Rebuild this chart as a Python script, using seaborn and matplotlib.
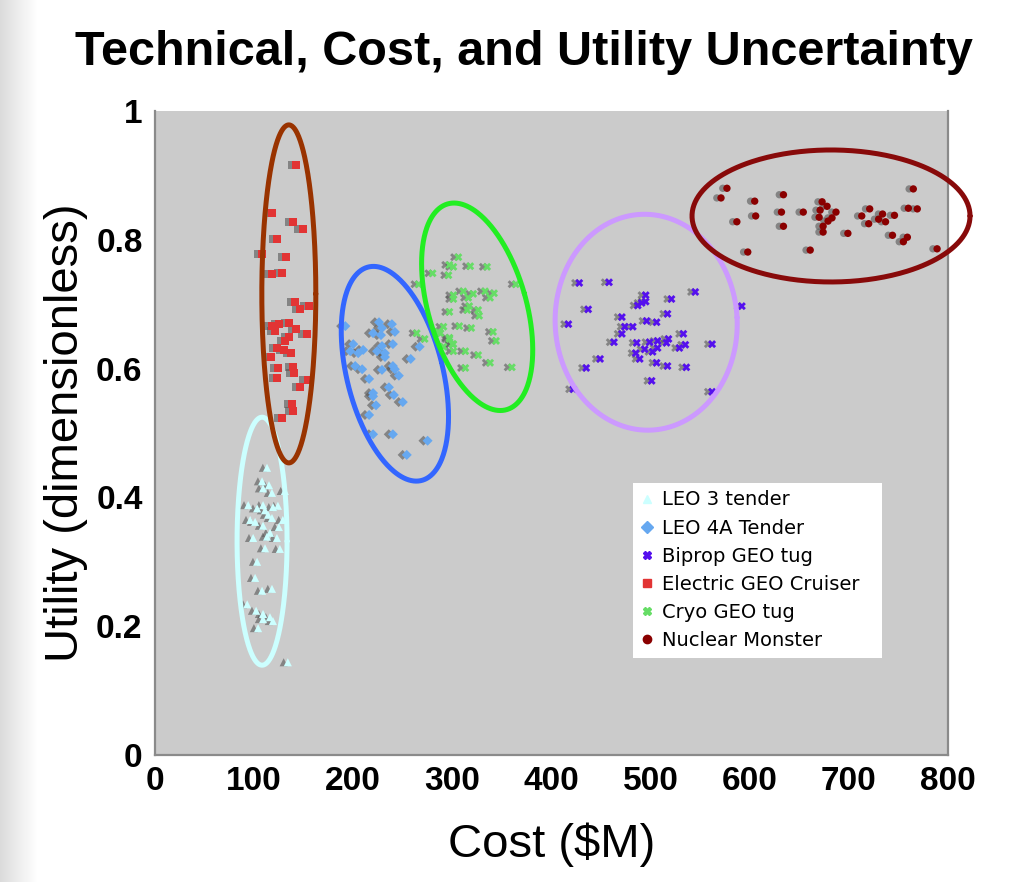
import numpy as np
import pandas as pd
import matplotlib
matplotlib.use("Agg")
import matplotlib.pyplot as plt
import matplotlib.patheffects as pe
import seaborn as sns

# ---------------- data ----------------
series_names = ["LEO 3 tender", "LEO 4A Tender", "Biprop GEO tug",
                "Electric GEO Cruiser", "Cryo GEO tug", "Nuclear Monster"]

leo3_cost = [113, 108, 115, 109, 118, 131, 94, 103, 109, 111, 119, 124, 114, 96, 101, 118, 129,
             109, 125, 116, 113, 99, 123, 111, 126, 103, 101, 108, 118, 93, 102, 109, 116, 119,
             109, 104, 134]
leo3_util = [0.446, 0.425, 0.419, 0.414, 0.407, 0.410, 0.388, 0.383, 0.388, 0.380, 0.385, 0.387,
             0.373, 0.365, 0.362, 0.368, 0.365, 0.356, 0.354, 0.345, 0.339, 0.337, 0.337, 0.321,
             0.320, 0.300, 0.275, 0.255, 0.258, 0.234, 0.224, 0.219, 0.214, 0.208, 0.211, 0.197,
             0.144]

leo4a_cost = [192, 226, 239, 229, 220, 228, 242, 200, 229, 240, 267, 197, 210, 205, 224, 232, 232,
              258, 202, 209, 229, 240, 242, 246, 216, 236, 220, 220, 241, 250, 223, 216, 220, 240,
              275, 254]
leo4a_util = [0.666, 0.672, 0.669, 0.663, 0.655, 0.652, 0.657, 0.638, 0.635, 0.638, 0.634, 0.627,
              0.629, 0.624, 0.627, 0.624, 0.618, 0.615, 0.604, 0.599, 0.598, 0.604, 0.599, 0.589,
              0.584, 0.571, 0.562, 0.557, 0.559, 0.548, 0.543, 0.528, 0.498, 0.498, 0.488, 0.466]

biprop_cost = [428, 458, 545, 495, 495, 491, 487, 521, 592, 437, 517, 471, 496, 506, 417, 474, 482,
               471, 533, 463, 486, 499, 507, 518, 516, 535, 562, 529, 507, 494, 502, 485, 489, 449,
               506, 517, 536, 435, 501, 422, 562]
biprop_util = [0.733, 0.734, 0.719, 0.714, 0.704, 0.702, 0.698, 0.708, 0.697, 0.692, 0.685, 0.680,
               0.674, 0.672, 0.669, 0.665, 0.665, 0.654, 0.654, 0.641, 0.640, 0.641, 0.643, 0.646,
               0.640, 0.637, 0.638, 0.632, 0.632, 0.630, 0.626, 0.624, 0.615, 0.615, 0.609, 0.604,
               0.602, 0.601, 0.581, 0.568, 0.564]

electric_cost = [142, 118, 139, 149, 123, 108, 132, 118, 128, 141, 146, 155, 118, 125, 135, 121,
                 142, 153, 135, 131, 123, 130, 137, 117, 124, 139, 140, 123, 154, 146, 138, 139, 128]
electric_util = [0.916, 0.842, 0.828, 0.817, 0.801, 0.778, 0.773, 0.747, 0.748, 0.703, 0.693, 0.697,
                 0.666, 0.669, 0.671, 0.658, 0.661, 0.654, 0.649, 0.643, 0.632, 0.629, 0.624, 0.618,
                 0.601, 0.602, 0.593, 0.585, 0.582, 0.572, 0.545, 0.534, 0.523]

cryo_cost = [306, 297, 301, 318, 335, 280, 296, 266, 364, 311, 301, 321, 333, 342, 301, 316, 338,
             317, 315, 326, 297, 327, 291, 307, 319, 286, 341, 264, 297, 344, 272, 301, 291, 313,
             301, 326, 338, 313, 360, 288, 297, 300]
cryo_util = [0.773, 0.761, 0.758, 0.759, 0.758, 0.748, 0.745, 0.731, 0.731, 0.720, 0.714, 0.716,
             0.720, 0.717, 0.708, 0.710, 0.710, 0.697, 0.691, 0.691, 0.688, 0.682, 0.665, 0.666,
             0.663, 0.657, 0.657, 0.655, 0.648, 0.643, 0.646, 0.638, 0.634, 0.627, 0.627, 0.621,
             0.609, 0.601, 0.602, 0.655, 0.646, 0.638]

nuclear_cost = [577, 571, 605, 634, 765, 587, 606, 632, 654, 673, 678, 671, 670, 687, 683, 679, 634,
                674, 674, 699, 713, 721, 720, 730, 734, 737, 746, 760, 769, 744, 759, 755, 598, 661,
                789]
nuclear_util = [0.880, 0.865, 0.860, 0.870, 0.879, 0.828, 0.837, 0.843, 0.843, 0.859, 0.852, 0.846,
                0.835, 0.843, 0.834, 0.829, 0.821, 0.821, 0.812, 0.810, 0.837, 0.848, 0.825, 0.832,
                0.840, 0.828, 0.838, 0.849, 0.848, 0.807, 0.804, 0.797, 0.781, 0.784, 0.786]

marker_colors = ["#ccffff", "#66a8f0", "#5510ee", "#e23434", "#66dd66", "#8a0000"]
marker_shapes = ["^", "D", "X", "s", "X", "o"]
marker_sizes = [34, 26, 34, 34, 34, 28]

# ellipse annotations: centre (data), semi-axes (pixels), rotation (deg), colour
ell_cx = [108, 242, 325, 495.5, 135, 682]
ell_cy = [0.332, 0.592, 0.696, 0.672, 0.716, 0.837]
ell_semi_w = [25, 48, 49, 91, 27, 139]
ell_semi_h = [124, 110, 107, 108, 169, 66]
ell_angle = [0, 14, 16, 3, 0, 0]
ell_colors = ["#ccffff", "#3366ff", "#22ee22", "#cc99ff", "#993300", "#880a0a"]

x_ticks = [0, 100, 200, 300, 400, 500, 600, 700, 800]
y_ticks = [0, 0.2, 0.4, 0.6, 0.8, 1.0]
y_tick_labels = ["0", "0.2", "0.4", "0.6", "0.8", "1"]

# ---------------- build frame ----------------
frames = []
for name, xs, ys in zip(series_names,
                        [leo3_cost, leo4a_cost, biprop_cost, electric_cost, cryo_cost, nuclear_cost],
                        [leo3_util, leo4a_util, biprop_util, electric_util, cryo_util, nuclear_util]):
    frames.append(pd.DataFrame({"Cost": xs, "Utility": ys, "Series": name}))
df = pd.concat(frames, ignore_index=True)

sns.set_style("white")
plt.rcParams["font.family"] = ["Liberation Sans", "DejaVu Sans"]
plt.rcParams["text.color"] = "black"
plt.rcParams["axes.labelcolor"] = "black"
plt.rcParams["xtick.color"] = "black"
plt.rcParams["ytick.color"] = "black"

W, H, DPI = 1018, 882, 100
fig = plt.figure(figsize=(W / DPI, H / DPI), dpi=DPI)
fig.patch.set_facecolor("white")

# light gradient strip at the left edge
gax = fig.add_axes([0, 0, 0.036, 1])
grad = np.linspace(0.86, 1.0, 64).reshape(1, -1)
gax.imshow(np.dstack([grad, grad, grad]), aspect="auto", extent=[0, 1, 0, 1])
gax.axis("off")

ax_left, ax_bottom, ax_w, ax_h = 155 / W, (H - 755) / H, (948 - 155) / W, (755 - 111) / H
ax = fig.add_axes([ax_left, ax_bottom, ax_w, ax_h])
ax.set_facecolor("#cbcbcb")

palette = dict(zip(series_names, marker_colors))
markers = dict(zip(series_names, marker_shapes))
for name, size in zip(series_names, marker_sizes):
    sub = df[df["Series"] == name]
    sns.scatterplot(data=sub, x="Cost", y="Utility", hue="Series", style="Series",
                    palette=palette, markers=markers, s=size, linewidth=0,
                    ax=ax, legend=False, zorder=3)
for coll in ax.collections:
    coll.set_path_effects([pe.SimplePatchShadow(offset=(-3, 0), shadow_rgbFace="#555555",
                                                alpha=0.6), pe.Normal()])

ax.set_xlim(0, 800)
ax.set_ylim(0, 1)

# ellipses (drawn parametrically so that pixel shapes are preserved)
sx = ax_w * W / 800.0
sy = ax_h * H / 1.0
t = np.linspace(0, 2 * np.pi, 400)
for cx, cy, a, b, ang, col in zip(ell_cx, ell_cy, ell_semi_w, ell_semi_h, ell_angle, ell_colors):
    th = np.deg2rad(ang)
    px = a * np.cos(t)
    py = b * np.sin(t)
    rx = px * np.cos(th) - py * np.sin(th)
    ry = px * np.sin(th) + py * np.cos(th)
    ax.plot(cx + rx / sx, cy + ry / sy, color=col, lw=3.6, clip_on=False, zorder=4)

# axes styling
ax.set_xticks(x_ticks)
ax.set_xticklabels([str(v) for v in x_ticks], fontsize=24, fontweight="bold")
ax.set_yticks(y_ticks)
ax.set_yticklabels(y_tick_labels, fontsize=24, fontweight="bold")
ax.tick_params(axis="y", direction="out", length=4, width=1.2, color="#777777", pad=5)
ax.tick_params(axis="x", length=0, pad=8)
for side in ["left", "bottom", "right"]:
    ax.spines[side].set_color("#8a8a8a")
    ax.spines[side].set_linewidth(1.6)
ax.spines["top"].set_visible(False)

ax.set_xlabel("Cost ($M)", fontsize=34, labelpad=18)
ax.set_ylabel("Utility (dimensionless)", fontsize=34, labelpad=6)
fig.text(0.515, 0.941, "Technical, Cost, and Utility Uncertainty", fontsize=35,
         fontweight="bold", ha="center", va="center")

# legend
handles = [plt.Line2D([], [], linestyle="none", marker=m, color=c, markersize=6)
           for m, c in zip(marker_shapes, marker_colors)]
leg = ax.legend(handles, series_names, loc="upper left",
                bbox_to_anchor=(0.603, 0.157, 0.314, 0.266), mode="expand",
                frameon=True, fancybox=False, framealpha=1, edgecolor="white",
                prop={"family": "DejaVu Sans", "size": 14}, handlelength=0.6,
                handletextpad=0.5, labelspacing=0.47, borderpad=0.4, borderaxespad=0)
leg.get_frame().set_linewidth(0)
leg.set_zorder(5)

fig.savefig("out.png", dpi=DPI)
